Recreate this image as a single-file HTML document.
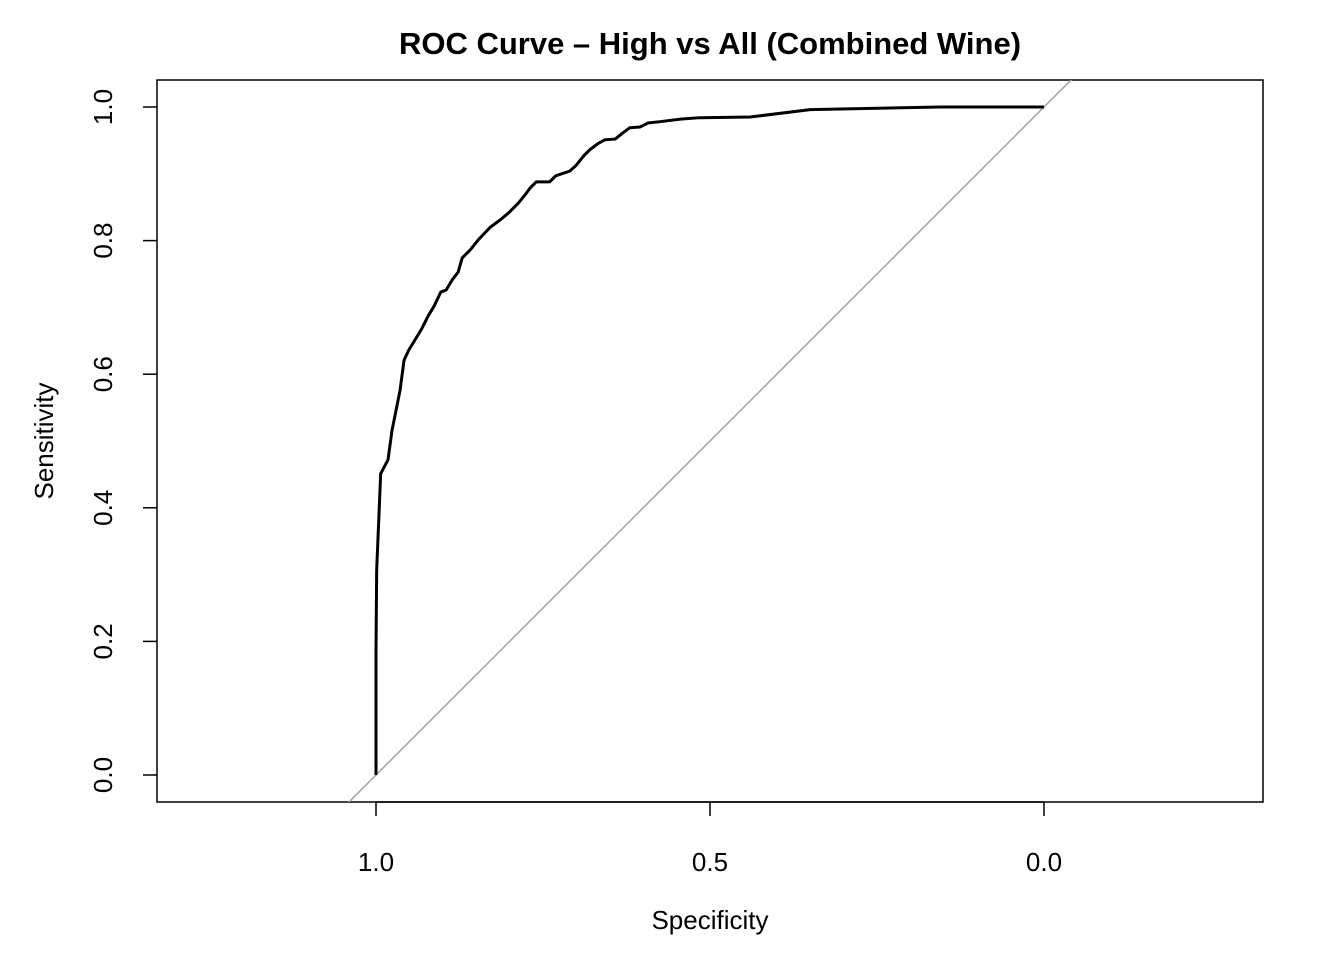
<!DOCTYPE html>
<html><head><meta charset="utf-8"><style>html,body{margin:0;background:#fff;overflow:hidden;width:1344px;height:960px}svg{display:block}text{font-family:"Liberation Sans",Arial,sans-serif;font-size:26px}</style></head>
<body>
<svg id="c" width="1344" height="960">
<defs><clipPath id="pc"><rect x="157" y="80" width="1106" height="722"/></clipPath></defs>
<text x="710" y="54" text-anchor="middle" style="font-size:31px;font-weight:bold">ROC Curve – High vs All (Combined Wine)</text>
<rect x="157" y="80" width="1106" height="722" fill="none" stroke="#000" stroke-width="1.5"/>
<text x="710" y="929" text-anchor="middle">Specificity</text>
<text transform="translate(53,441) rotate(-90)" text-anchor="middle">Sensitivity</text>
<g id="xa"></g>
<g id="ya"></g>
<g id="pl" clip-path="url(#pc)"></g>
</svg>
<script>
const xTicks=[1.0,0.5,0.0];
const xTickLabels=["1.0","0.5","0.0"];
const yTicks=[0,0.2,0.4,0.6,0.8,1.0];
const yTickLabels=["0.0","0.2","0.4","0.6","0.8","1.0"];
const specificity=[1.000,1.000,0.999,0.993,0.982,0.976,0.970,0.964,0.958,0.951,0.940,0.931,0.922,0.913,0.903,0.895,0.886,0.877,0.871,0.859,0.847,0.829,0.814,0.802,0.787,0.778,0.769,0.760,0.740,0.731,0.710,0.701,0.689,0.680,0.668,0.657,0.642,0.632,0.620,0.605,0.593,0.575,0.551,0.542,0.515,0.440,0.350,0.156,0.000];
const sensitivity=[0.000,0.187,0.307,0.451,0.472,0.516,0.546,0.576,0.621,0.636,0.654,0.669,0.687,0.702,0.723,0.726,0.741,0.753,0.774,0.786,0.801,0.820,0.831,0.841,0.856,0.867,0.879,0.888,0.888,0.897,0.904,0.912,0.927,0.936,0.945,0.951,0.952,0.960,0.969,0.970,0.976,0.978,0.981,0.982,0.984,0.985,0.996,1.000,1.000];
const NS="http://www.w3.org/2000/svg";
const X=v=>1044-(v)*668;
const Y=v=>775-v*668;
function mk(t,a,p){const e=document.createElementNS(NS,t);for(const k in a)e.setAttribute(k,a[k]);p.appendChild(e);return e;}
const xa=document.getElementById('xa'),ya=document.getElementById('ya'),pl=document.getElementById('pl');
mk('line',{x1:X(xTicks[0]),x2:X(xTicks[xTicks.length-1]),y1:802,y2:802,stroke:'#000','stroke-width':1.5},xa);
xTicks.forEach((v,i)=>{
 const l=mk('line',{x1:X(v),x2:X(v),y1:802,y2:816,stroke:'#000','stroke-width':1.5},xa);
 
 
 const t=mk('text',{x:X(v),y:871,'text-anchor':'middle'},xa);t.textContent=xTickLabels[i];
 
 
});
yTicks.forEach((v,i)=>{
 const l=mk('line',{x1:143,x2:157,y1:Y(v),y2:Y(v),stroke:'#000','stroke-width':1.5},ya);
 
 
 const t=mk('text',{transform:`translate(112,${Y(v)}) rotate(-90)`,'text-anchor':'middle'},ya);t.textContent=yTickLabels[i];
 
 
});
const d=mk('line',{x1:X(1.5),y1:Y(-0.5),x2:X(-0.5),y2:Y(1.5),stroke:'#a0a0a0','stroke-width':1.5},pl);


const p=mk('polyline',{points:specificity.map((s,i)=>X(s)+','+Y(sensitivity[i])).join(' '),fill:'none',stroke:'#000','stroke-width':3,'stroke-linejoin':'round'},pl);


</script>
</body></html>
